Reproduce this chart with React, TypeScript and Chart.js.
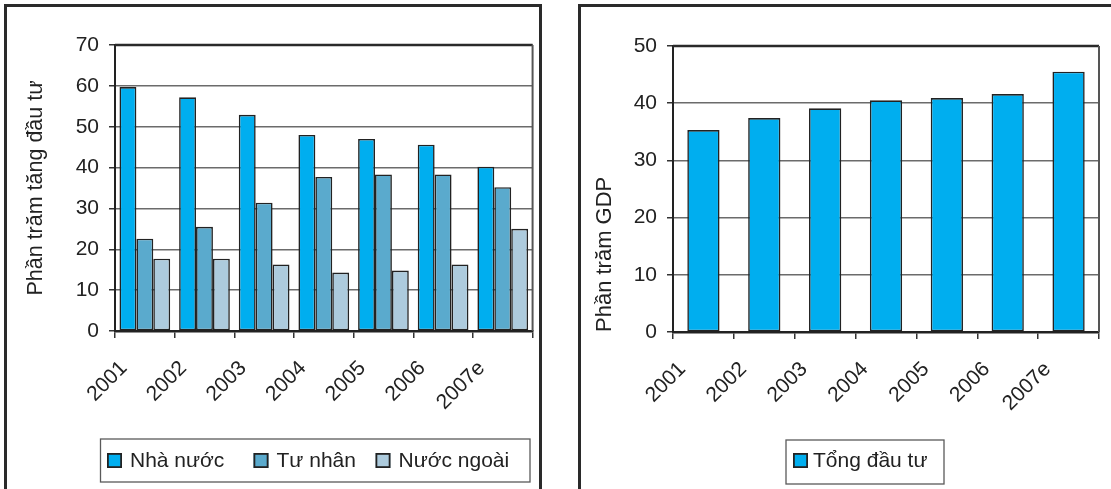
import React, { useEffect, useRef } from "react";
import { Chart, registerables } from "chart.js";

Chart.register(...registerables);

// ---- data ----
const years = ["2001", "2002", "2003", "2004", "2005", "2006", "2007e"];
const seriesNames = ["Nhà nước", "Tư nhân", "Nước ngoài"];
const stateShare = [59.7, 57.2, 52.9, 48.0, 47.0, 45.6, 40.2];
const privateShare = [22.6, 25.5, 31.4, 37.7, 38.3, 38.3, 35.2];
const foreignShare = [17.7, 17.7, 16.3, 14.3, 14.8, 16.3, 25.0];
const totalName = "Tổng đầu tư";
const totalInvestment = [35.3, 37.4, 39.1, 40.5, 40.9, 41.6, 45.5];
const shareAxisTitle = "Phần trăm tăng đầu tư";
const gdpAxisTitle = "Phần trăm GDP";
const shareAxisMax = 70;
const gdpAxisMax = 50;
const tickStep = 10;

// ---- styles ----
const FONT = "'Liberation Sans', Arial, Helvetica, sans-serif";
const INK = "#222222";
const seriesColors = ["#00aeef", "#5aaacd", "#adcbdd"];
const totalColor = "#00aeef";

// Dark frame along the top and right of the plot area
const plotFrame = {
  id: "plotFrame",
  afterDraw(chart: any) {
    const { ctx, chartArea: a } = chart;
    ctx.save();
    ctx.lineWidth = 2.5;
    ctx.strokeStyle = "#2a2a2a";
    ctx.beginPath();
    ctx.moveTo(a.left, a.top);
    ctx.lineTo(a.right, a.top);
    ctx.stroke();
    ctx.lineWidth = 2;
    ctx.strokeStyle = "#555555";
    ctx.beginPath();
    ctx.moveTo(a.right, a.top);
    ctx.lineTo(a.right, a.bottom);
    ctx.stroke();
    ctx.restore();
  },
};

// Legend drawn in a framed box below the axis labels
type LegendCfg = {
  frame: [number, number, number, number];
  markerY: number;
  textY: number;
  xs: number[];
  textGap: number;
};
const boxedLegend = (cfg: LegendCfg) => ({
  id: "boxedLegend",
  afterDraw(chart: any) {
    const ctx = chart.ctx;
    const [x0, y0, x1, y1] = cfg.frame;
    ctx.save();
    ctx.strokeStyle = "#5a5a5a";
    ctx.lineWidth = 1.3;
    ctx.strokeRect(x0, y0, x1 - x0, y1 - y0);
    ctx.font = `21px ${FONT}`;
    ctx.textBaseline = "middle";
    ctx.textAlign = "left";
    chart.data.datasets.forEach((ds: any, i: number) => {
      const x = cfg.xs[i];
      ctx.fillStyle = ds.backgroundColor;
      ctx.fillRect(x, cfg.markerY, 15, 15);
      ctx.strokeStyle = INK;
      ctx.lineWidth = 1.8;
      ctx.strokeRect(x + 0.9, cfg.markerY + 0.9, 13.2, 13.2);
      ctx.fillStyle = INK;
      ctx.fillText(ds.label, x + 15 + cfg.textGap, cfg.textY);
    });
    ctx.restore();
  },
});

type AxisCfg = {
  max: number;
  yWidth: number;
  xHeight: number;
  title: string;
  titleSize: number;
  titlePad: number;
  titleAlign: "center" | "start";
};

function buildOptions(a: AxisCfg, padRight: number, padTop: number) {
  return {
    responsive: false,
    animation: false as const,
    devicePixelRatio: 1,
    layout: { padding: { top: padTop, right: padRight, left: 0, bottom: 0 } },
    plugins: { legend: { display: false }, tooltip: { enabled: false } },
    scales: {
      x: {
        offset: true,
        afterFit: (s: any) => {
          s.height = a.xHeight;
        },
        grid: {
          offset: true,
          drawOnChartArea: false,
          drawTicks: true,
          tickLength: 7,
          tickColor: "#333333",
          lineWidth: 1.5,
        },
        border: { display: true, color: INK, width: 2.5 },
        ticks: {
          autoSkip: false,
          minRotation: 45,
          maxRotation: 45,
          labelOffset: -21,
          padding: 18,
          color: INK,
          font: { family: FONT, size: 21 },
        },
      },
      y: {
        min: 0,
        max: a.max,
        afterFit: (s: any) => {
          s.width = a.yWidth;
        },
        grid: {
          color: "#6b6b6b",
          lineWidth: 1.5,
          drawTicks: true,
          tickLength: 6,
          tickColor: "#333333",
        },
        border: { display: true, color: INK, width: 2 },
        ticks: {
          stepSize: tickStep,
          padding: 10,
          color: INK,
          font: { family: FONT, size: 21 },
        },
        title: {
          display: true,
          text: a.title,
          align: a.titleAlign,
          color: INK,
          font: { family: FONT, size: a.titleSize },
          padding: { top: a.titlePad, bottom: 0 },
        },
      },
    },
  };
}

export default function App() {
  const leftRef = useRef<HTMLCanvasElement | null>(null);
  const rightRef = useRef<HTMLCanvasElement | null>(null);

  useEffect(() => {
    document.body.style.margin = "0";
    const left = new Chart(leftRef.current as HTMLCanvasElement, {
      type: "bar",
      data: {
        labels: years,
        datasets: [stateShare, privateShare, foreignShare].map((values, i) => ({
          label: seriesNames[i],
          data: values,
          backgroundColor: seriesColors[i],
          borderColor: INK,
          borderWidth: 1.6,
          borderSkipped: false,
          categoryPercentage: 0.85,
          barPercentage: 1.0,
        })),
      },
      options: buildOptions(
        {
          max: shareAxisMax,
          yWidth: 108,
          xHeight: 158,
          title: shareAxisTitle,
          titleSize: 21.5,
          titlePad: 16,
          titleAlign: "center",
        },
        6,
        38
      ) as any,
      plugins: [
        plotFrame,
        boxedLegend({
          frame: [93.5, 432, 523, 475],
          markerY: 446,
          textY: 454,
          xs: [100, 246.5, 368.5],
          textGap: 8,
        }),
      ],
    });

    const right = new Chart(rightRef.current as HTMLCanvasElement, {
      type: "bar",
      data: {
        labels: years,
        datasets: [
          {
            label: totalName,
            data: totalInvestment,
            backgroundColor: totalColor,
            borderColor: INK,
            borderWidth: 1.6,
            borderSkipped: false,
            categoryPercentage: 0.53,
            barPercentage: 1.0,
          },
        ],
      },
      options: buildOptions(
        {
          max: gdpAxisMax,
          yWidth: 92,
          xHeight: 157,
          title: gdpAxisTitle,
          titleSize: 22,
          titlePad: 11,
          titleAlign: "start",
        },
        12,
        39
      ) as any,
      plugins: [
        plotFrame,
        boxedLegend({
          frame: [205, 433, 363, 477],
          markerY: 446,
          textY: 454,
          xs: [212],
          textGap: 5,
        }),
      ],
    });

    return () => {
      left.destroy();
      right.destroy();
    };
  }, []);

  return (
    <div
      style={{
        position: "fixed",
        left: 0,
        top: 0,
        width: 1111,
        height: 489,
        overflow: "hidden",
        background: "#ffffff",
      }}
    >
      <div
        style={{
          position: "absolute",
          left: 4,
          top: 4,
          width: 538,
          height: 520,
          border: "3px solid #2a2a2a",
          boxSizing: "border-box",
        }}
      />
      <div
        style={{
          position: "absolute",
          left: 578,
          top: 4,
          width: 600,
          height: 520,
          border: "3px solid #2a2a2a",
          boxSizing: "border-box",
        }}
      />
      <canvas
        ref={leftRef}
        width={532}
        height={482}
        style={{ position: "absolute", left: 7, top: 7, width: 532, height: 482 }}
      />
      <canvas
        ref={rightRef}
        width={530}
        height={482}
        style={{ position: "absolute", left: 581, top: 7, width: 530, height: 482 }}
      />
    </div>
  );
}
